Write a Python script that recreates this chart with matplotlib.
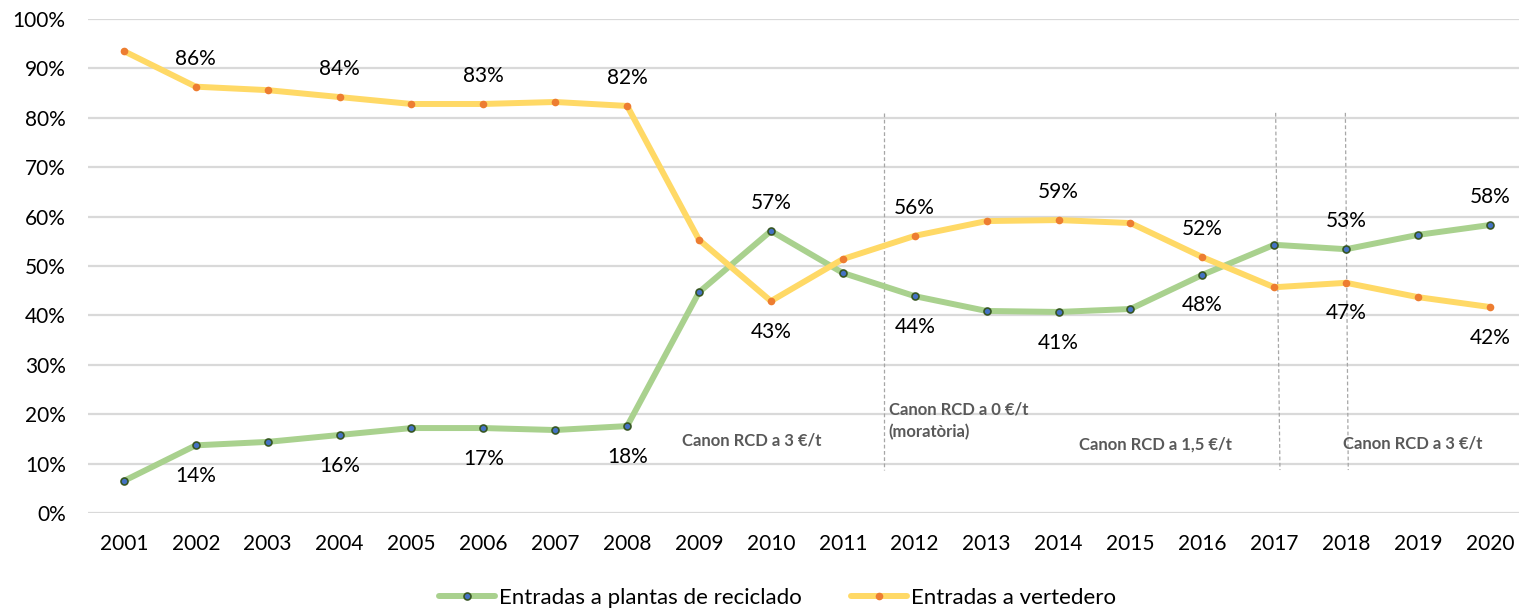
import matplotlib
matplotlib.use("Agg")
import matplotlib.pyplot as plt

years = list(range(2001, 2021))
reciclado = [6.5, 13.7, 14.4, 15.8, 17.2, 17.2, 16.8, 17.6, 44.7, 57.1,
             48.6, 43.9, 40.9, 40.7, 41.3, 48.2, 54.3, 53.4, 56.3, 58.3]
vertedero = [93.5, 86.3, 85.6, 84.2, 82.8, 82.8, 83.2, 82.4, 55.3, 42.9,
             51.4, 56.1, 59.1, 59.3, 58.7, 51.8, 45.7, 46.6, 43.7, 41.7]

# labelled years and label placement
rec_label_years = [2002, 2004, 2006, 2008, 2010, 2012, 2014, 2016, 2018, 2020]
rec_label_pos = ['below', 'below', 'below', 'below', 'above', 'below', 'below', 'below', 'above', 'above']
ver_label_years = [2002, 2004, 2006, 2008, 2010, 2012, 2014, 2016, 2018, 2020]
ver_label_pos = ['above', 'above', 'above', 'above', 'below', 'above', 'above', 'above', 'below', 'below']

yticks = list(range(0, 101, 10))
series_names = ["Entradas a plantas de reciclado", "Entradas a vertedero"]

# annotation texts
notes = ["Canon RCD a 3 €/t", "Canon RCD a 0 €/t\n(moratòria)", "Canon RCD a 1,5 €/t", "Canon RCD a 3 €/t"]
note_x = [2009.73, 2011.64, 2015.35, 2018.93]
note_y = [14.6, 18.7, 13.8, 14.0]
note_ha = ['center', 'left', 'center', 'center']
sep_lines = [(2011.57, 2011.57), (2017.02, 2017.08), (2017.99, 2018.03)]
sep_top, sep_bottom = 81.0, 8.7

FONT = ['Lato', 'DejaVu Sans']
plt.rcParams['font.family'] = FONT

GREEN = '#a9d18e'
YELLOW = '#ffd966'
ORANGE = '#ed7d31'
GRID = '#d9d9d9'

fig = plt.figure(figsize=(15.19, 6.09), dpi=100)
ax = fig.add_axes([0.0579, 0.1576, 0.9466, 0.8112])

ax.set_xlim(2000.5, 2020.5)
ax.set_ylim(0, 100)
ax.set_yticks(yticks)
ax.set_yticklabels([f"{v}%" for v in yticks])
ax.set_xticks(years)
ax.set_xticklabels([str(y) for y in years])
ax.grid(axis='y', color=GRID, lw=1.6)
ax.set_axisbelow(True)
for s in ax.spines.values():
    s.set_visible(False)
ax.tick_params(axis='both', length=0, labelsize=15, colors='#000000')
ax.tick_params(axis='y', pad=16)
ax.tick_params(axis='x', pad=15)

# separator lines
for (xt, xb) in sep_lines:
    ax.plot([xt, xb], [sep_top, sep_bottom], color='#a6a6a6', lw=0.9,
            ls=(0, (3, 2)), zorder=1)

l1, = ax.plot(years, reciclado, color=GREEN, lw=4.3, marker='o', ms=5,
              mfc='#4472c4', mec='#375623', mew=1.2, label=series_names[0],
              zorder=3, solid_capstyle='round', solid_joinstyle='round')
l2, = ax.plot(years, vertedero, color=YELLOW, lw=4.3, marker='o', ms=5.5,
              mfc=ORANGE, mec=ORANGE, mew=0, label=series_names[1],
              zorder=3, solid_capstyle='round', solid_joinstyle='round')

def add_labels(xs, vals, lyears, lpos):
    for y, p in zip(lyears, lpos):
        v = vals[xs.index(y)]
        off = 20 if p == 'above' else -22
        ax.annotate(f"{round(v)}%", (y, v), xytext=(0, off), textcoords='offset points',
                    ha='center', va='center', fontsize=15, color='#000000', zorder=4)

add_labels(years, reciclado, rec_label_years, rec_label_pos)
add_labels(years, vertedero, ver_label_years, ver_label_pos)

for t, x, y, ha in zip(notes, note_x, note_y, note_ha):
    ax.text(x, y, t, ha=ha, va='center', fontsize=12, fontweight='bold',
            color='#595959', linespacing=1.45, zorder=4)

fig.legend(handles=[l1, l2], loc='center', bbox_to_anchor=(0.512, 0.018),
           ncol=2, frameon=False, fontsize=16, handlelength=2.5,
           handletextpad=0.2, columnspacing=2.2, borderaxespad=0)

fig.savefig('out.png', dpi=100)
